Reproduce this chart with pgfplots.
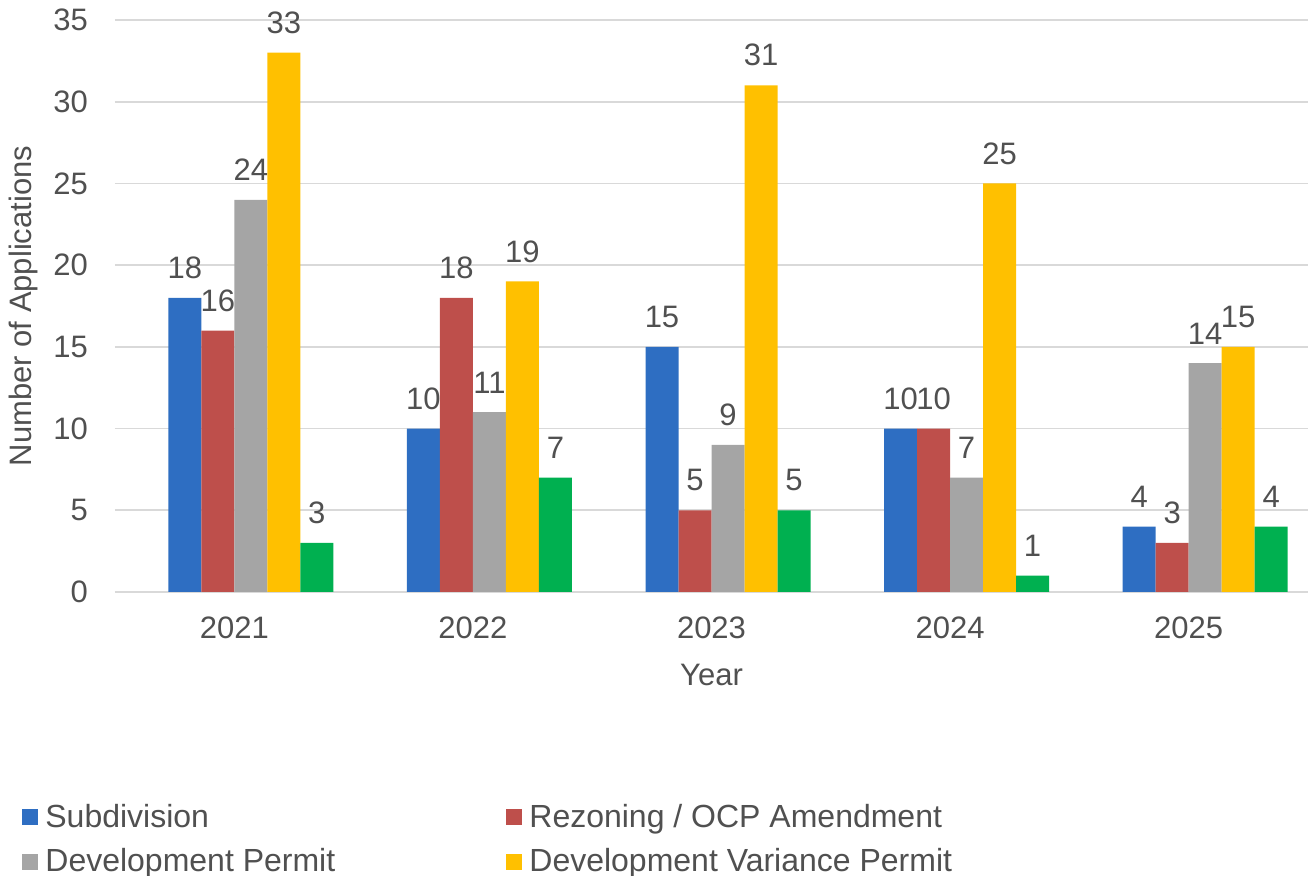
\documentclass[border=0pt]{standalone}
\usepackage{pgfplots}
\pgfplotsset{compat=1.18}
\usepackage{fontspec}
\setmainfont{Liberation Sans}
\definecolor{cblue}{HTML}{2E6EC2}
\definecolor{cred}{HTML}{BE4F4B}
\definecolor{cgrey}{HTML}{A5A5A5}
\definecolor{cyellow}{HTML}{FFC000}
\definecolor{cgreen}{HTML}{00B050}
\definecolor{txt}{HTML}{505050}
\newcommand{\fs}{\fontsize{15.5}{18}\selectfont}
\begin{document}
\begin{tikzpicture}
\useasboundingbox (-57.5pt,-142pt) rectangle (597.5pt,296pt);
\begin{axis}[
  at={(0,0)}, anchor=south west,
  scale only axis,
  width=596.5pt, height=286pt,
  ymin=0, ymax=35,
  xmin=-0.5, xmax=4.5,
  ytick={0,5,...,35},
  xtick=data,
  xticklabels={2021,2022,2023,2024,2025},
  ymajorgrids,
  grid style={draw=black!15, line width=0.9pt},
  axis line style={draw=none},
  major tick length=0pt,
  ybar=0pt, bar width=16.5pt,
  font=\fs,
  tick label style={text=txt, font=\fs},
  /pgf/number format/assume math mode=true,
  yticklabel style={anchor=east, xshift=-10pt},
  xticklabel style={anchor=center, yshift=-18pt},
  xlabel={Year}, ylabel={Number of Applications},
  label style={text=txt, font=\fs},
  xlabel style={at={(axis description cs:0.5,0)}, anchor=center, yshift=-41.5pt},
  ylabel style={at={(axis description cs:-0.0771,0.5)}, anchor=center},
  nodes near coords,
  every node near coord/.append style={text=txt, font=\fs, /pgf/number format/assume math mode=true, yshift=6pt},
  legend columns=2,
  legend cell align=left,
  legend style={draw=none, inner sep=0pt, at={(axis description cs:0,0)}, anchor=north west, xshift=-46.5pt, yshift=-104pt, font=\fontsize{16}{18}\selectfont, text=txt,
    /tikz/every even column/.append style={column sep=0pt}, row sep=5pt},
  legend image code/.code={\fill[#1] (0pt,-4pt) rectangle (8pt,4pt);},
]
\addplot[fill=cblue, draw=none] coordinates {(0,18) (1,10) (2,15) (3,10) (4,4)};
\addplot[fill=cred, draw=none] coordinates {(0,16) (1,18) (2,5) (3,10) (4,3)};
\addplot[fill=cgrey, draw=none] coordinates {(0,24) (1,11) (2,9) (3,7) (4,14)};
\addplot[fill=cyellow, draw=none] coordinates {(0,33) (1,19) (2,31) (3,25) (4,15)};
\addplot[fill=cgreen, draw=none, forget plot] coordinates {(0,3) (1,7) (2,5) (3,1) (4,4)};
\legend{\makebox[230pt][l]{\hspace{1.5pt}Subdivision}, \hspace{1.5pt}Rezoning / OCP Amendment, \makebox[230pt][l]{\hspace{1.5pt}Development Permit}, \hspace{1.5pt}Development Variance Permit}
\end{axis}
\end{tikzpicture}
\end{document}
